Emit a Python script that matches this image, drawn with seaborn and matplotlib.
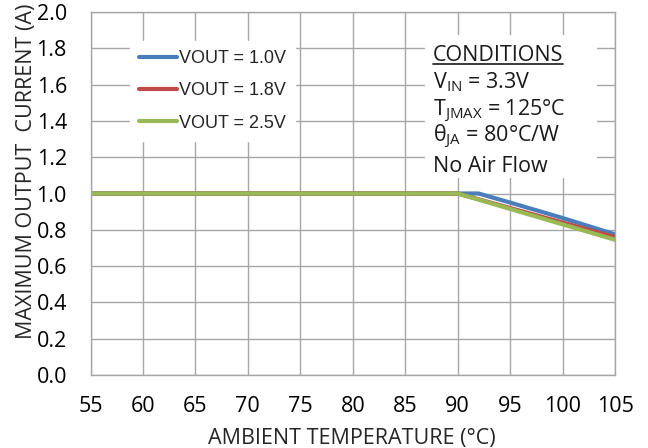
import matplotlib
matplotlib.use("Agg")
import matplotlib.pyplot as plt
import seaborn as sns
import pandas as pd

# ---- data ----
temp_vout_10 = [55, 60, 65, 70, 75, 80, 85, 90, 92, 95, 100, 105]
curr_vout_10 = [1.0, 1.0, 1.0, 1.0, 1.0, 1.0, 1.0, 1.0, 1.0, 0.95, 0.865, 0.775]
temp_vout_18 = [55, 60, 65, 70, 75, 80, 85, 90, 95, 100, 105]
curr_vout_18 = [1.0, 1.0, 1.0, 1.0, 1.0, 1.0, 1.0, 1.0, 0.92, 0.84, 0.76]
temp_vout_25 = [55, 60, 65, 70, 75, 80, 85, 90, 95, 100, 105]
curr_vout_25 = [1.0, 1.0, 1.0, 1.0, 1.0, 1.0, 1.0, 1.0, 0.915, 0.83, 0.745]
series_names = ["VOUT = 1.0V", "VOUT = 1.8V", "VOUT = 2.5V"]
x_ticks = [55, 60, 65, 70, 75, 80, 85, 90, 95, 100, 105]
y_ticks = [0.0, 0.2, 0.4, 0.6, 0.8, 1.0, 1.2, 1.4, 1.6, 1.8, 2.0]
conditions = ["CONDITIONS", r"V$_{\mathregular{IN}}$ = 3.3V",
              r"T$_{\mathregular{JMAX}}$ = 125°C", r"θ$_{\mathregular{JA}}$ = 80°C/W",
              "No Air Flow"]

frames = []
for name, t, c in zip(series_names,
                      [temp_vout_10, temp_vout_18, temp_vout_25],
                      [curr_vout_10, curr_vout_18, curr_vout_25]):
    frames.append(pd.DataFrame({"temp": t, "current": c, "series": name}))
df = pd.concat(frames, ignore_index=True)

sns.set_style("white")
plt.rcParams["font.family"] = ["Open Sans", "DejaVu Sans"]
plt.rcParams["mathtext.default"] = "regular"

W, H = 648, 448
L, R, T, B = 90.5, 615, 12, 375
fig = plt.figure(figsize=(W / 100, H / 100), dpi=100)
ax = fig.add_axes([L / W, 1 - B / H, (R - L) / W, (B - T) / H])
AW, AH = R - L, B - T

palette = {"VOUT = 1.0V": "#4A7EBB", "VOUT = 1.8V": "#BE4B48", "VOUT = 2.5V": "#98B954"}
sns.lineplot(data=df, x="temp", y="current", hue="series", palette=palette,
             linewidth=3, ax=ax, sort=False, estimator=None)

grid_c = "#A6A6A6"
ax.set_xlim(55, 105)
ax.set_ylim(0, 2.0)
ax.set_xticks(x_ticks)
ax.set_yticks(y_ticks)
ax.set_yticklabels([f"{v:.1f}" for v in y_ticks])
ax.grid(True, color=grid_c, linewidth=1)
ax.set_axisbelow(True)
for s in ax.spines.values():
    s.set_color(grid_c)
    s.set_linewidth(1)
ax.tick_params(axis="both", which="major", length=7, width=1, color=grid_c,
               labelsize=15.5, labelcolor="black", direction="out")
ax.tick_params(axis="x", pad=8)
ax.tick_params(axis="y", pad=10)
ax.set_xlabel("AMBIENT TEMPERATURE (°C)", fontsize=15.5)
ax.set_ylabel("MAXIMUM OUTPUT  CURRENT (A)", fontsize=15.5)
ax.xaxis.set_label_coords((352 - L) / AW, (B - 428) / AH)
ax.yaxis.set_label_coords((37 - L) / AW, (B - 171) / AH)

leg = ax.legend(loc="upper left", bbox_to_anchor=((121 - L) / AW, (B - 32) / AH),
                frameon=True, facecolor="white", edgecolor="white", framealpha=1,
                prop={"family": "Liberation Sans", "size": 13},
                handlelength=2.1, handletextpad=0.1, labelspacing=0.85,
                borderpad=0.5, fancybox=False)
for line in leg.get_lines():
    line.set_linewidth(3)

# conditions box background
ax.add_patch(plt.Rectangle(((425 - L) / AW, (B - 178) / AH),
                           (597 - 425) / AW, (178 - 35) / AH,
                           transform=ax.transAxes, facecolor="white",
                           edgecolor="none", zorder=3))
x0 = (433 - L) / AW
baselines = [61, 88, 115, 141, 172]
fig.canvas.draw()
for txt, yb in zip(conditions, baselines):
    t = ax.text(x0, (B - yb) / AH, txt, transform=ax.transAxes, fontsize=15.5,
                va="baseline", ha="left", zorder=4, color="#1a1a1a")
    if txt == "CONDITIONS":
        fig.canvas.draw()
        bb = t.get_window_extent()
        inv = ax.transAxes.inverted()
        (xa, _), (xb, _) = inv.transform([(bb.x0, bb.y0), (bb.x1, bb.y0)])
        ax.plot([xa, xb], [(B - yb - 3) / AH] * 2, transform=ax.transAxes,
                color="#1a1a1a", linewidth=1.2, zorder=4, clip_on=False)

fig.savefig("out.png", dpi=100)
